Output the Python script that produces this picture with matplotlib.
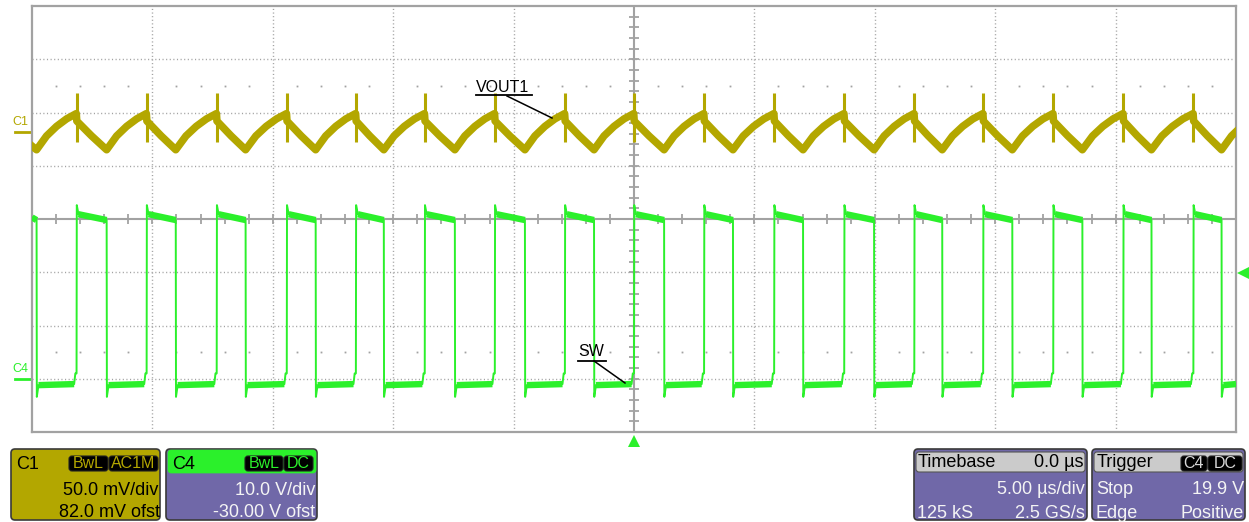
import matplotlib
matplotlib.use("Agg")
import matplotlib.pyplot as plt
from matplotlib.patches import FancyBboxPatch
from matplotlib.lines import Line2D

W, H = 1249, 522

# ---------------- data ----------------
time_per_div_us = 5.0
c1_scale_mv = 50.0          # mV/div
c1_offset_mv = 82.0         # mV ofst
c4_scale_v = 10.0           # V/div
c4_offset_v = -30.0         # V ofst
trigger_level_v = 19.9
trigger_time_us = 0.0

# SW (C4) edge times, microseconds
sw_rise_us = [-23.15, -20.24, -17.33, -14.42, -11.55, -8.69, -5.78, -2.87, 0.00,
              2.91, 5.82, 8.73, 11.64, 14.50, 17.41, 20.32, 23.23]
sw_fall_us = [-24.81, -21.90, -19.03, -16.13, -13.22, -10.39, -7.44, -4.53, -1.66,
              1.25, 4.11, 7.02, 9.97, 12.80, 15.71, 18.62, 21.49, 24.40]
# SW levels, volts
sw_high_levels_v = [32.6, 30.9, 29.8]        # overshoot, plateau start, plateau end
sw_low_levels_v = [-3.4, -1.2, -1.0, 1.0]    # undershoot, plateau start, plateau end, pre-edge
sw_start_v = 30.3

# VOUT1 (C1) ripple, mV
c1_start_mv = -13.5
c1_spike_mv = [-10.0, 36.0]                  # spike low / high at each SW rising edge
c1_high_phase_frac = [0.5, 1.0]             # fractions of SW-high interval
c1_high_phase_mv = [-4.0, -17.0]
c1_after_edge_mv = 10.0
c1_low_phase_frac = [0.25, 0.5, 0.75, 1.0]   # fractions of SW-low interval
c1_low_phase_mv = [-4.0, 5.0, 12.0, 17.0]
c1_nominal_low_us = 1.66

# ---------------- colours ----------------
OLIVE = "#b3a700"
GREEN = "#2bf02b"
PURPLE = "#7068a8"
GRID = "#a2a2a2"

plt.rcParams["font.family"] = ["Liberation Sans", "DejaVu Sans"]

fig = plt.figure(figsize=(W / 100, H / 100), dpi=100)
fig.patch.set_facecolor("white")

L, T, R, B = 32, 6, 1236, 432
ax = fig.add_axes([L / W, 1 - B / H, (R - L) / W, (B - T) / H])
ax.set_xlim(-5 * time_per_div_us, 5 * time_per_div_us)
ax.set_ylim(-4, 4)
ax.set_xticks([]); ax.set_yticks([])
for s in ax.spines.values():
    s.set_color(GRID); s.set_linewidth(1.6)


def c1_div(mv):
    return (mv + c1_offset_mv) / c1_scale_mv


def c4_div(v):
    return (v + c4_offset_v) / c4_scale_v


# ---------------- graticule ----------------
dot = (0, (0.8, 1.8))
for k in range(-4, 5):
    if k != 0:
        ax.axvline(k * time_per_div_us, color=GRID, lw=1.0, ls=dot, zorder=1)
for k in range(-3, 4):
    if k != 0:
        ax.axhline(k, color=GRID, lw=1.0, ls=dot, zorder=1)
ax.axhline(0, color=GRID, lw=1.5, zorder=1)
ax.axvline(0, color=GRID, lw=1.5, zorder=1)
sub_t = [i * time_per_div_us / 5 for i in range(-25, 26)]
ax.plot(sub_t, [0] * len(sub_t), ls="none", marker="|", ms=6.5, mew=1.3, color=GRID, zorder=1)
sub_y = [i / 5 for i in range(-20, 21)]
ax.plot([0] * len(sub_y), sub_y, ls="none", marker="_", ms=6.5, mew=1.3, color=GRID, zorder=1)
row_t = [t for i, t in enumerate(sub_t) if i % 5 != 0]
for yy in (2.5, -2.5):
    ax.plot(row_t, [yy] * len(row_t), ls="none", marker="s", ms=1.3, color=GRID, mew=0, zorder=1)

# ---------------- SW trace (C4) ----------------
eps = 0.01
sw_t, sw_v = [-25.0], [sw_start_v]
hi_t, hi_v = [[-25.0, sw_fall_us[0]]], [[sw_start_v, sw_high_levels_v[2]]]
lo_t, lo_v = [], []
for i, tf in enumerate(sw_fall_us):
    sw_t += [tf, tf + eps, tf + 0.08]
    sw_v += [sw_high_levels_v[2], sw_low_levels_v[0], sw_low_levels_v[1]]
    if i < len(sw_rise_us):
        tr = sw_rise_us[i]
        sw_t += [tr - 0.1, tr - 0.05, tr, tr + eps, tr + 0.08]
        sw_v += [sw_low_levels_v[2], sw_low_levels_v[3], sw_low_levels_v[3],
                 sw_high_levels_v[0], sw_high_levels_v[1]]
        lo_t.append([tf + 0.08, tr - 0.1]); lo_v.append([sw_low_levels_v[1], sw_low_levels_v[2]])
        hi_t.append([tr + 0.08, sw_fall_us[i + 1]]); hi_v.append([sw_high_levels_v[1], sw_high_levels_v[2]])
    else:
        sw_t += [25.0]; sw_v += [sw_low_levels_v[2]]
        lo_t.append([tf + 0.08, 25.0]); lo_v.append([sw_low_levels_v[1], sw_low_levels_v[2]])

ax.plot(sw_t, [c4_div(v) for v in sw_v], color=GREEN, lw=1.4, zorder=3)
for tt, vv in zip(hi_t + lo_t, hi_v + lo_v):
    ax.plot(tt, [c4_div(v) for v in vv], color=GREEN, lw=4.6, solid_capstyle="butt", zorder=3)

# ---------------- VOUT1 trace (C1) ----------------
c1_t, c1_v = [-25.0], [c1_start_mv]
c1_t.append(sw_fall_us[0]); c1_v.append(c1_high_phase_mv[-1])
for i, tr in enumerate(sw_rise_us):
    tf = sw_fall_us[i]
    for fr, mv in zip(c1_low_phase_frac, c1_low_phase_mv):
        c1_t.append(tf + fr * (tr - tf) - (eps if fr == 1.0 else 0)); c1_v.append(mv)
    c1_t.append(tr + eps); c1_v.append(c1_after_edge_mv)
    tf2 = sw_fall_us[i + 1]
    for fr, mv in zip(c1_high_phase_frac, c1_high_phase_mv):
        c1_t.append(tr + fr * (tf2 - tr)); c1_v.append(mv)
for fr, mv in zip(c1_low_phase_frac, c1_low_phase_mv):
    c1_t.append(sw_fall_us[-1] + fr * c1_nominal_low_us); c1_v.append(mv)

ax.plot(c1_t, [c1_div(v) for v in c1_v], color=OLIVE, lw=5.4,
        solid_joinstyle="round", zorder=3)
ax.vlines(sw_rise_us, c1_div(c1_spike_mv[0]), c1_div(c1_spike_mv[1]),
          color=OLIVE, lw=2.2, zorder=3)

# ---------------- channel markers ----------------
ytr = ax.get_yaxis_transform()
xtr = ax.get_xaxis_transform()
ax.plot([-17 / (R - L), -2 / (R - L)], [c1_div(0)] * 2, color=OLIVE, lw=2,
        transform=ytr, clip_on=False)
ax.text(-20 / (R - L), c1_div(0) + 0.13, "C1", color=OLIVE, fontsize=9,
        transform=ytr, ha="left", va="baseline", clip_on=False)
ax.plot([-17 / (R - L), -2 / (R - L)], [c4_div(0)] * 2, color=GREEN, lw=2,
        transform=ytr, clip_on=False)
ax.text(-20 / (R - L), c4_div(0) + 0.13, "C4", color=GREEN, fontsize=9,
        transform=ytr, ha="left", va="baseline", clip_on=False)
ax.plot([1.0065], [c4_div(trigger_level_v)], marker="<", ms=9.5, color=GREEN,
        mew=0, transform=ytr, clip_on=False)
ax.plot([trigger_time_us], [-0.022], marker="^", ms=8, color=GREEN,
        mew=0, transform=xtr, clip_on=False)

# ---------------- overlay (pixel coordinates) ----------------
ov = fig.add_axes([0, 0, 1, 1])
ov.set_xlim(0, W); ov.set_ylim(H, 0); ov.axis("off"); ov.patch.set_alpha(0)

# annotations
ov.text(476, 92, "VOUT1", fontsize=11.5, color="black", va="baseline")
ov.add_line(Line2D([476, 532], [94.5, 94.5], color="black", lw=1.3))
ov.add_line(Line2D([507, 552], [96, 118], color="black", lw=1.1))
ov.text(578, 356, "SW", fontsize=11.5, color="black", va="baseline")
ov.add_line(Line2D([578, 606], [360.5, 360.5], color="black", lw=1.3))
ov.add_line(Line2D([594, 625], [361, 383], color="black", lw=1.1))


def rbox(x0, y0, x1, y1, fc, ec="#3a3a3a", r=4, lw=1.2, z=5):
    p = FancyBboxPatch((x0, y0), x1 - x0, y1 - y0,
                       boxstyle=f"round,pad=0,rounding_size={r}",
                       fc=fc, ec=ec, lw=lw, zorder=z)
    ov.add_patch(p)


def badge(x0, x1, s, col):
    rbox(x0, 456, x1, 471, "black", ec="#222222", r=3, lw=0.8, z=7)
    ov.text((x0 + x1) / 2, 468.5, s, fontsize=11.5, color=col, ha="center",
            va="baseline", zorder=8)


FS = 13
# C1 box
rbox(11, 449, 160, 520, OLIVE)
ov.text(16, 469, "C1", fontsize=FS, color="black", va="baseline", zorder=8)
badge(69, 108, "BwL", OLIVE)
badge(109, 158, "AC1M", OLIVE)
ov.text(158, 495, "50.0 mV/div", fontsize=FS, ha="right", va="baseline", zorder=8)
ov.text(160, 517, "82.0 mV ofst", fontsize=FS, ha="right", va="baseline", zorder=8)

# C4 box
rbox(166, 449, 317, 520, PURPLE)
rbox(168, 450, 316, 473, GREEN, ec=GREEN, r=3, lw=0.5, z=6)
ov.text(172, 469, "C4", fontsize=FS, color="black", va="baseline", zorder=8)
badge(245, 283, "BwL", GREEN)
badge(284, 313, "DC", GREEN)
ov.text(315, 495, "10.0 V/div", fontsize=FS, color="#f4f4f4", ha="right", va="baseline", zorder=8)
ov.text(315, 517, "-30.00 V ofst", fontsize=FS, color="#f4f4f4", ha="right", va="baseline", zorder=8)

# Timebase box
rbox(914, 449, 1087, 520, PURPLE)
rbox(916, 452, 1085, 472, "#cbcbcb", ec="#555555", r=3, lw=0.8, z=6)
ov.text(918, 467, "Timebase", fontsize=FS, va="baseline", zorder=8)
ov.text(1084, 467, "0.0 µs", fontsize=FS, ha="right", va="baseline", zorder=8)
ov.text(1085, 494, "5.00 µs/div", fontsize=FS, color="#f4f4f4", ha="right", va="baseline", zorder=8)
ov.text(917, 518, "125 kS", fontsize=FS, color="#f4f4f4", va="baseline", zorder=8)
ov.text(1085, 518, "2.5 GS/s", fontsize=FS, color="#f4f4f4", ha="right", va="baseline", zorder=8)

# Trigger box
rbox(1092, 449, 1245, 520, PURPLE)
rbox(1094, 452, 1243, 472, "#cbcbcb", ec="#555555", r=3, lw=0.8, z=6)
ov.text(1097, 467, "Trigger", fontsize=FS, va="baseline", zorder=8)
badge(1181, 1207, "C4", "#d8d8d8")
badge(1208, 1242, "DC", "#d8d8d8")
ov.text(1096, 494, "Stop", fontsize=FS, color="#f4f4f4", va="baseline", zorder=8)
ov.text(1244, 494, f"{trigger_level_v} V", fontsize=FS, color="#f4f4f4", ha="right", va="baseline", zorder=8)
ov.text(1096, 518, "Edge", fontsize=FS, color="#f4f4f4", va="baseline", zorder=8)
ov.text(1244, 518, "Positive", fontsize=FS, color="#f4f4f4", ha="right", va="baseline", zorder=8)

fig.savefig("out.png", dpi=100, facecolor="white")
